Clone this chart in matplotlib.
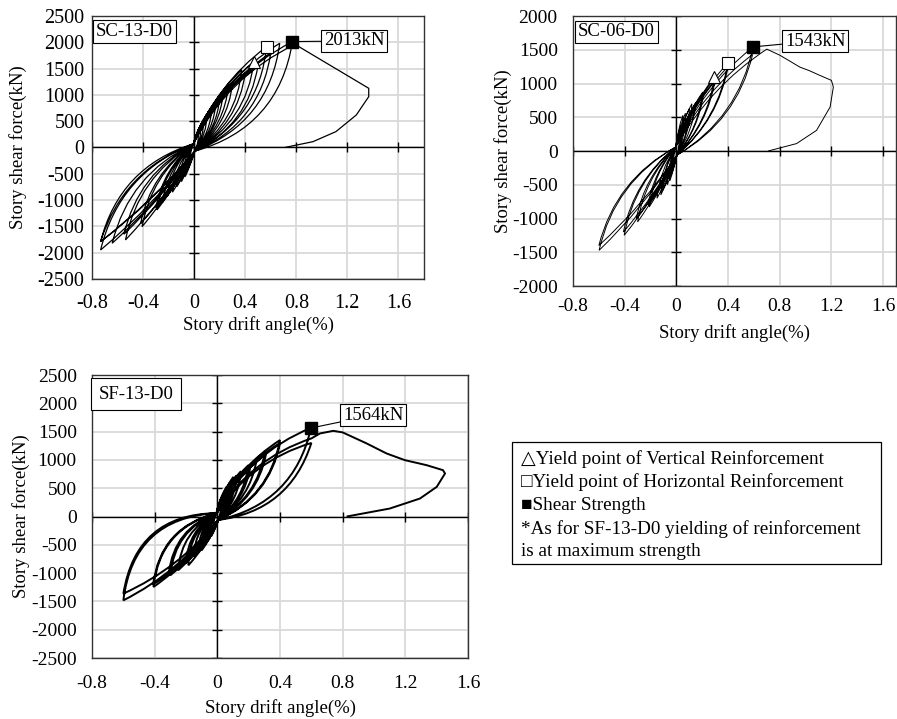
import numpy as np
import matplotlib
matplotlib.use("Agg")
import matplotlib.pyplot as plt
from matplotlib.path import Path
from matplotlib.patches import PathPatch, Rectangle

plt.rcParams['font.family'] = ['Liberation Serif', 'DejaVu Sans']

# ---------------- data ----------------
# SC-13-D0 : cycle peaks (drift %, shear kN)
sc13_pos_drift = [0.03, 0.05, 0.073, 0.10, 0.138, 0.17, 0.20, 0.228, 0.268, 0.30, 0.372, 0.40, 0.468, 0.50, 0.567, 0.60, 0.67, 0.77]
sc13_pos_force = [300, 420, 523, 640, 776, 880, 960, 1061, 1188, 1220, 1473, 1420, 1631, 1560, 1916, 1800, 1981, 2013]
sc13_neg_drift = [-0.03, -0.05, -0.07, -0.10, -0.135, -0.17, -0.213, -0.25, -0.291, -0.30, -0.408, -0.42, -0.538, -0.55, -0.642, -0.733, -0.733, -0.733]
sc13_neg_force = [-280, -420, -555, -650, -745, -850, -935, -1050, -1188, -1150, -1506, -1450, -1758, -1650, -1821, -1790, -1949, -1790]
sc13_tail_drift = [0.79, 1.367, 1.367, 1.27, 1.11, 0.93, 0.71]
sc13_tail_force = [1960, 1125, 966, 618, 301, 110, 0]
sc13_marks = {'vert': (0.468, 1631), 'hor': (0.567, 1916), 'peak': (0.77, 2013)}

# SC-06-D0
sc06_pos_drift = [0.02, 0.035, 0.05, 0.07, 0.101, 0.12, 0.15, 0.204, 0.21, 0.295, 0.30, 0.398, 0.40, 0.593, 0.59]
sc06_pos_force = [220, 380, 529, 560, 628, 700, 720, 874, 850, 1096, 1050, 1303, 1250, 1543, 1430]
sc06_neg_drift = [-0.02, -0.035, -0.05, -0.07, -0.106, -0.12, -0.15, -0.21, -0.22, -0.30, -0.31, -0.404, -0.41, -0.598, -0.60]
sc06_neg_force = [-200, -330, -440, -500, -582, -650, -700, -829, -800, -1051, -1000, -1249, -1200, -1471, -1400]
sc06_tail_drift = [0.70, 0.80, 0.88, 0.955, 1.03, 1.11, 1.2, 1.215, 1.19, 1.085, 0.93, 0.71]
sc06_tail_force = [1510, 1420, 1330, 1244, 1190, 1121, 1047, 948, 652, 306, 110, 0]
sc06_marks = {'vert': (0.295, 1096), 'hor': (0.398, 1303), 'peak': (0.593, 1543)}

# SF-13-D0
sf13_pos_drift = [0.02, 0.04, 0.06, 0.08, 0.102, 0.12, 0.15, 0.198, 0.21, 0.25, 0.304, 0.31, 0.40, 0.40, 0.598, 0.60]
sf13_pos_force = [250, 400, 530, 600, 700, 720, 800, 907, 880, 1000, 1143, 1100, 1351, 1300, 1567, 1300]
sf13_neg_drift = [-0.02, -0.04, -0.06, -0.08, -0.10, -0.12, -0.15, -0.185, -0.20, -0.25, -0.30, -0.31, -0.408, -0.41, -0.60, -0.60]
sf13_neg_force = [-220, -350, -420, -500, -596, -620, -700, -862, -820, -950, -1038, -1000, -1245, -1200, -1481, -1362]
sf13_tail_drift = [0.60, 0.655, 0.74, 0.80, 0.953, 1.08, 1.197, 1.336, 1.44, 1.453, 1.40, 1.293, 1.10, 0.825]
sf13_tail_force = [1380, 1468, 1514, 1486, 1291, 1114, 996, 907, 819, 760, 524, 318, 141, 0]
sf13_marks = {'peak': (0.598, 1564)}

drift_ticks = [-0.8, -0.4, 0, 0.4, 0.8, 1.2, 1.6]
force_ticks_25 = [-2500, -2000, -1500, -1000, -500, 0, 500, 1000, 1500, 2000, 2500]
force_ticks_20 = [-2000, -1500, -1000, -500, 0, 500, 1000, 1500, 2000]

legend_lines = ['\u25b3Yield point of Vertical Reinforcement',
                '\u25a1Yield point of Horizontal Reinforcement',
                '\u25a0Shear Strength',
                '*As for SF-13-D0 yielding of reinforcement',
                'is at maximum strength']


def hysteresis_path(ax, pos_x, pos_y, neg_x, neg_y, tail_x, tail_y, pinch, bulge):
    # loops drawn as quadratic bezier arcs; bulge is worked out on screen so
    # the lens shapes do not depend on the axis scales
    to_px = ax.transData.transform
    to_data = ax.transData.inverted().transform
    fu_p, fl_p, fl_n, fu_n = bulge
    top = (-0.005, pinch)
    bot = (0.005, -pinch)
    verts = [top]
    codes = [Path.MOVETO]
    amax = max(pos_x)

    def arc(p0, p1, f):
        u0, u1 = to_px(p0), to_px(p1)
        d = u1 - u0
        q = (u0 + u1) / 2 + f * np.array([-d[1], d[0]])
        verts.extend([tuple(to_data(q)), p1])
        codes.extend([Path.CURVE3, Path.CURVE3])

    for px, py, nx, ny in zip(pos_x, pos_y, neg_x, neg_y):
        s = 0.45 + 0.55 * px / amax
        arc(top, (px, py), fu_p * s)
        arc((px, py), bot, fl_p * s)
        arc(bot, (nx, ny), fl_n * s)
        arc((nx, ny), top, fu_n * s)
    arc(top, (tail_x[0], tail_y[0]), fu_p)
    for x, y in zip(tail_x[1:], tail_y[1:]):
        verts.append((x, y))
        codes.append(Path.LINETO)
    return Path(verts, codes)


def style_axes(ax, xlim, yticks, fs, xpad, ypad):
    ax.set_xlim(xlim)
    ax.set_ylim(yticks[0], yticks[-1])
    ax.set_xticks(drift_ticks)
    ax.set_xticklabels([f'{v:g}' for v in drift_ticks])
    ax.set_yticks(yticks)
    ax.set_yticklabels([f'{v:g}' for v in yticks])
    ax.grid(color='#d9d9d9', lw=1.3)
    ax.set_axisbelow(True)
    ax.tick_params(axis='x', length=0, labelsize=fs, pad=xpad)
    ax.tick_params(axis='y', length=0, labelsize=fs, pad=ypad)
    for sp in ax.spines.values():
        sp.set_linewidth(1.0)
        sp.set_color('#333333')
    ax.axhline(0, color='black', lw=1.0, zorder=1.5)
    ax.axvline(0, color='black', lw=1.0, zorder=1.5)
    ax.plot(drift_ticks, np.zeros(len(drift_ticks)), ls='none', marker='|', ms=7, mew=1.0, color='black', zorder=1.6)
    ax.plot(np.zeros(len(yticks)), yticks, ls='none', marker='_', ms=7, mew=1.0, color='black', zorder=1.6)
    ax.set_xlabel('Story drift angle(%)', fontsize=13.5, va='center')
    ax.set_ylabel('Story shear force(kN)', fontsize=13.5, va='center')


def put_marks(ax, marks):
    if 'vert' in marks:
        ax.plot(*marks['vert'], marker='^', ms=9, mfc='white', mec='black', mew=0.8, zorder=4)
    if 'hor' in marks:
        ax.plot(*marks['hor'], marker='s', ms=8, mfc='white', mec='black', mew=0.8, zorder=4)
    ax.plot(*marks['peak'], marker='s', ms=8, mfc='black', mec='black', zorder=4)


def label_boxes(ax, name, name_xy, name_pad, value, value_xy, peak):
    ax.annotate(value, xy=peak, xytext=value_xy, fontsize=13.5,
                ha='center', va='center', zorder=5,
                bbox=dict(boxstyle='square,pad=0.15', fc='white', ec='black', lw=0.8),
                arrowprops=dict(arrowstyle='-', lw=0.8, color='black', shrinkA=0, shrinkB=0))
    ax.text(*name_xy, name, transform=ax.transAxes, fontsize=13.5, ha='center', va='center',
            bbox=dict(boxstyle=f'square,pad={name_pad}', fc='white', ec='black', lw=0.8), zorder=5)


fig = plt.figure(figsize=(8.97, 7.19), dpi=100)

# ---- SC-13-D0 ----
ax1 = fig.add_axes([0.1026, 0.6120, 0.3701, 0.3658])
style_axes(ax1, (-0.8, 1.8), force_ticks_25, 14.5, 11, 5.5)
p = hysteresis_path(ax1, sc13_pos_drift, sc13_pos_force, sc13_neg_drift, sc13_neg_force,
                    sc13_tail_drift, sc13_tail_force, 70, (0.17, 0.32, 0.06, 0.28))
ax1.add_patch(PathPatch(p, fill=False, lw=0.9, ec='black', zorder=3))
put_marks(ax1, sc13_marks)
label_boxes(ax1, 'SC-13-D0', (0.128, 0.941), 0.15, '2013kN', (1.255, 2025), sc13_marks['peak'])
ax1.yaxis.set_label_coords(-0.223, 0.5)
ax1.xaxis.set_label_coords(0.5, -0.175)

# ---- SC-06-D0 ----
ax2 = fig.add_axes([0.6388, 0.6022, 0.3601, 0.3755])
style_axes(ax2, (-0.8, 1.7), force_ticks_20, 14, 8.5, 11)
p = hysteresis_path(ax2, sc06_pos_drift, sc06_pos_force, sc06_neg_drift, sc06_neg_force,
                    sc06_tail_drift, sc06_tail_force, 60, (0.12, 0.22, 0.06, 0.22))
ax2.add_patch(PathPatch(p, fill=False, lw=0.7, ec='black', zorder=3))
put_marks(ax2, sc06_marks)
label_boxes(ax2, 'SC-06-D0', (0.135, 0.941), 0.15, '1543kN', (1.076, 1629), sc06_marks['peak'])
ax2.yaxis.set_label_coords(-0.217, 0.5)
ax2.xaxis.set_label_coords(0.5, -0.174)

# ---- SF-13-D0 ----
ax3 = fig.add_axes([0.1026, 0.0848, 0.4192, 0.3936])
style_axes(ax3, (-0.8, 1.6), force_ticks_25, 14, 12.5, 11)
p = hysteresis_path(ax3, sf13_pos_drift, sf13_pos_force, sf13_neg_drift, sf13_neg_force,
                    sf13_tail_drift, sf13_tail_force, 60, (0.18, 0.32, 0.12, 0.42))
ax3.add_patch(PathPatch(p, fill=False, lw=1.4, ec='black', zorder=3))
put_marks(ax3, sf13_marks)
label_boxes(ax3, 'SF-13-D0', (0.117, 0.932), 0.4, '1564kN', (0.996, 1792), sf13_marks['peak'])
ax3.yaxis.set_label_coords(-0.189, 0.5)
ax3.xaxis.set_label_coords(0.5, -0.177)

# ---- legend box ----
fig.patches.append(Rectangle((512 / 897, 1 - 564 / 719), (881 - 512) / 897, (564 - 442) / 719,
                             transform=fig.transFigure, fill=False, ec='black', lw=0.9))
for i, line in enumerate(legend_lines):
    fig.text(521 / 897, 1 - (459 + 23.2 * i) / 719, line, fontsize=13.8, ha='left', va='center')

fig.savefig('out.png', dpi=100)
